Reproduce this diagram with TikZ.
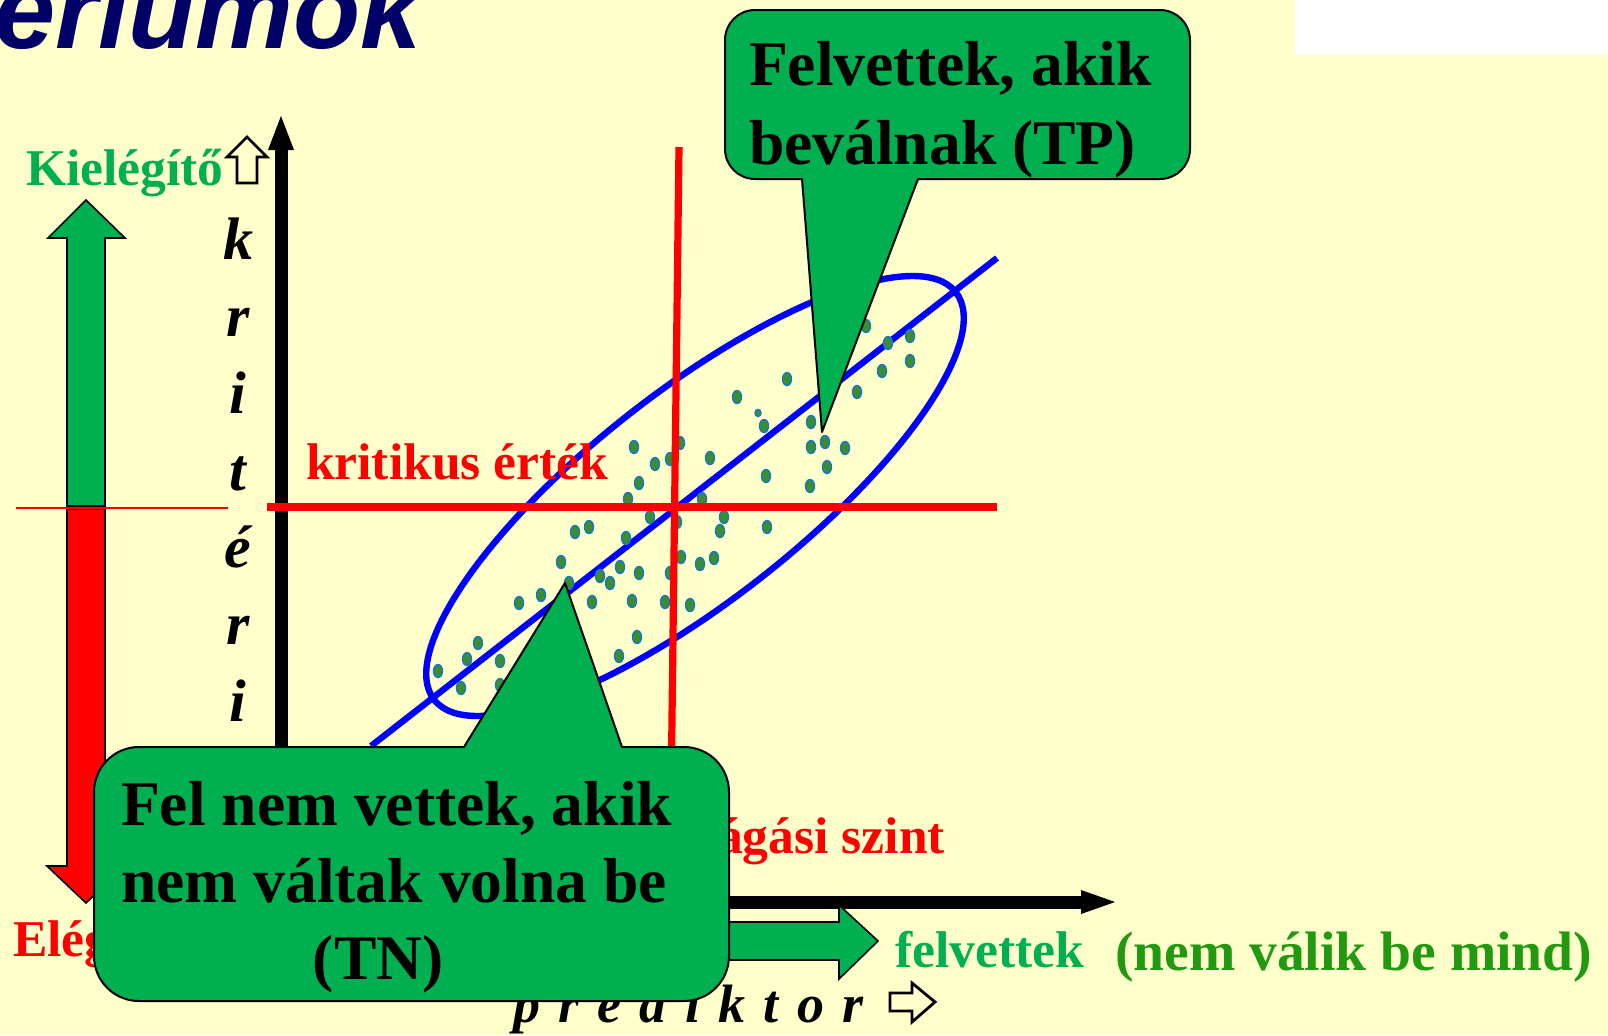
\documentclass[tikz,border=0pt]{standalone}
\usepackage{fontspec}
\setmainfont{Liberation Serif}
\setsansfont{Liberation Sans}
\usetikzlibrary{shapes.geometric}
\definecolor{bgyellow}{RGB}{255,255,204}
\definecolor{okgreen}{RGB}{0,176,80}
\definecolor{darkgreen}{RGB}{34,153,17}
\definecolor{navyblue}{RGB}{0,0,102}
\definecolor{dotgreen}{RGB}{60,140,50}
\definecolor{dotblue}{RGB}{20,120,200}
\begin{document}
\begin{tikzpicture}[x=0.5pt,y=0.5pt,
  txt/.style={inner sep=0pt, outer sep=0pt},
  midfont/.style={font=\bfseries\fontsize{25.8}{30}\selectfont},
  callout/.style={fill=okgreen, draw=black, line width=1pt, line join=round},
  blockarrow/.style={draw=black, line width=0.8pt, line join=miter},
  hollow/.style={draw=black, line width=1.4pt, line join=miter},
  pt/.style={fill=dotgreen, draw=dotblue, line width=0.7pt},
  axisline/.style={line width=6.5pt, draw=black},
  redline/.style={draw=red, line width=3.6pt},
  blueline/.style={draw=blue, line width=3.2pt}]
% background and frame
\fill[bgyellow] (0,0) rectangle (1608,-1035);
\useasboundingbox (0,0) rectangle (1608,-1035);
\clip (0,0) rectangle (1608,-1035);
\fill[white] (1295,0) rectangle (1608,-55);
% title
\node[txt, anchor=base east, text=navyblue, font=\sffamily\bfseries\itshape\fontsize{55}{60}\selectfont] (title) at (422,-48) {Kritériumok};
% left double arrow
\filldraw[blockarrow, fill=okgreen] (67,-506) -- (67,-238) -- (48,-238) -- (86,-200) -- (125,-238) -- (105,-238) -- (105,-506) -- cycle;
\filldraw[blockarrow, fill=red] (67,-509) -- (67,-866) -- (47,-866) -- (86,-903) -- (125,-866) -- (105,-866) -- (105,-509) -- cycle;
\draw[red, line width=1pt] (16,-507.5) -- (228,-507.5);
\node[txt, midfont, anchor=base west, text=okgreen] (kiel) at (26,-185) {Kielégítő};
\draw[hollow] (247,-137) -- (267,-157) -- (257,-157) -- (257,-183) -- (237,-183) -- (237,-157) -- (227,-157) -- cycle;
\node[txt, midfont, anchor=base west, text=red] (eleg) at (13,-956) {Elégtelen};
% axes
\draw[axisline] (281,-905) -- (281,-146);
\fill[black] (281,-116) -- (294,-150) -- (268,-150) -- cycle;
\draw[axisline] (270,-902) -- (1083,-902);
\fill[black] (1115,-902) -- (1081,-890) -- (1081,-914) -- cycle;
% vertical axis label
\foreach \ch/\yy [count=\i] in {k/259, r/336, i/413, t/490, é/567, r/644, i/721}{
  \node[txt, anchor=base, font=\bfseries\itshape\fontsize{30}{36}\selectfont] (yl\i) at (238,-\yy) {\ch};
}
% green block arrow (felvettek)
\filldraw[blockarrow, fill=okgreen] (600,-922) -- (839,-922) -- (839,-905) -- (878,-941) -- (839,-979) -- (839,-960) -- (600,-960) -- cycle;
% predictor label
\node[txt, anchor=base west, font=\bfseries\itshape\fontsize{27}{32}\selectfont] (pred) at (513,-1022) {\spaceskip=9.15pt p r e d i k t o r};
\draw[hollow] (890,-993) -- (912,-993) -- (912,-983) -- (935,-1002) -- (912,-1022) -- (912,-1011) -- (890,-1011) -- cycle;
% scatter ellipse, regression line, points
\draw[blueline, rotate around={38:(695,-496)}] (695,-496) ellipse [x radius=331, y radius=105];
\draw[blueline] (371,-746) -- (997,-258);
\foreach \px/\py in {866/326, 888/343, 910/336, 910/361, 882/371, 787/379, 857/392, 737/397, 764/426, 811/422, 825/442, 811/447, 845/448, 827/467, 810/486, 766/476, 710/458, 680/443, 670/459, 655/464, 634/447, 639/483, 628/499, 702/499, 724/517, 767/527, 720/531, 650/517, 677/522, 626/538, 589/527, 575/532, 561/562, 620/567, 639/573, 600/576, 610/583, 569/583, 681/557, 700/564, 714/558, 670/573, 541/595, 519/603, 592/602, 632/601, 665/602, 690/605, 637/637, 619/656, 478/643, 467/659, 500/661, 438/671, 461/688, 500/685}{
  \filldraw[pt] (\px,-\py) ellipse [x radius=4.5, y radius=6.5];
}
\filldraw[pt] (758,-413) ellipse [x radius=3, y radius=3.5];
% red critical lines
\draw[redline] (267,-507) -- (997,-507);
\draw[redline] (679,-147) -- (671,-800);
% red / green labels
\node[txt, midfont, anchor=base west, text=red] (krit) at (306,-479) {kritikus érték};
\node[txt, midfont, anchor=base east, text=red] (elvag) at (945,-853) {Elvágási szint};
\node[txt, midfont, anchor=base west, text=okgreen] (felv) at (895,-967) {felvettek};
\node[txt, anchor=base west, text=darkgreen, font=\bfseries\fontsize{27.8}{32}\selectfont] (nemvalik) at (1115,-970) {(nem válik be mind)};
% callout TP
\filldraw[callout] (802,-179) -- (822,-432) -- (918,-179) -- (1160,-179) arc[start angle=270, end angle=360, radius=30] -- (1190,-40) arc[start angle=0, end angle=90, radius=30] -- (755,-10) arc[start angle=90, end angle=180, radius=30] -- (725,-149) arc[start angle=180, end angle=270, radius=30] -- cycle;
\node[txt, anchor=base west, align=left, font=\bfseries\fontsize{31.8}{39.5}\selectfont] (tptext) at (749,-164) {Felvettek, akik\\beválnak (TP)};
% callout TN
\filldraw[callout] (464,-747) -- (565,-583) -- (622,-747) -- (684,-747) arc[start angle=90, end angle=0, radius=45] -- (729,-956) arc[start angle=0, end angle=-90, radius=45] -- (139,-1001) arc[start angle=270, end angle=180, radius=45] -- (94,-792) arc[start angle=180, end angle=90, radius=45] -- cycle;
\node[txt, anchor=base west, align=left, font=\bfseries\fontsize{31.8}{38.3}\selectfont] (tntext) at (121,-979) {Fel nem vettek, akik\\nem váltak volna be\\\hspace*{96pt}(TN)};
\end{tikzpicture}
\end{document}
